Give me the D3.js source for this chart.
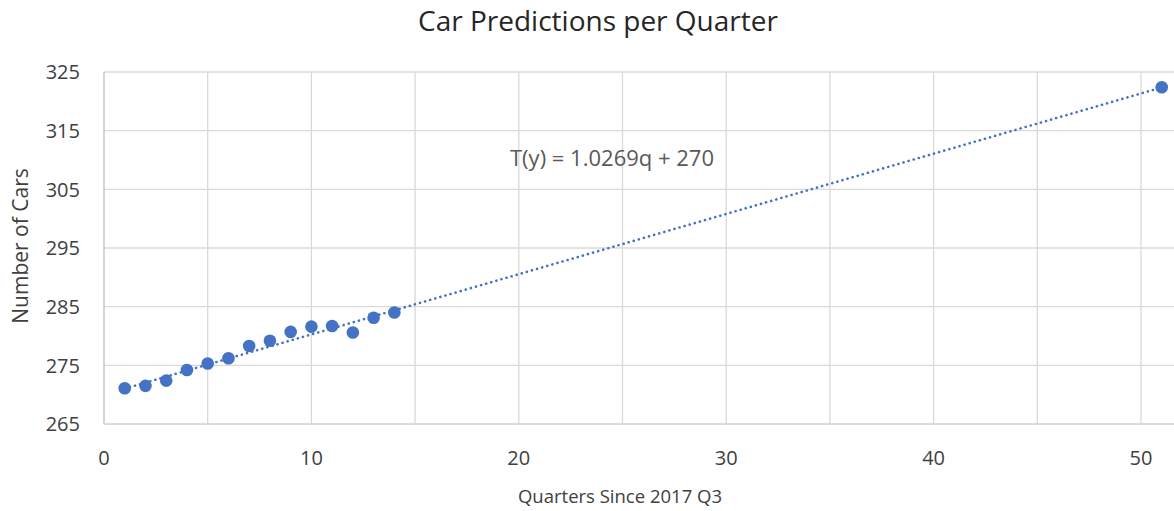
<!DOCTYPE html>
<html><head><meta charset="utf-8">
<script src="https://cdn.jsdelivr.net/npm/d3@7"></script>
<style>
html,body{margin:0;padding:0;background:#fff;}
svg{display:block;}
text{font-family:"Open Sans","Noto Sans",sans-serif;}
</style></head>
<body>
<svg id="chart" width="1174" height="511"></svg>
<script>
const quarters = [1,2,3,4,5,6,7,8,9,10,11,12,13,14,51];
const cars = [271.1,271.5,272.4,274.2,275.3,276.2,278.3,279.2,280.7,281.6,281.7,280.6,283.1,284.0,322.4];
const xTicks = [0,10,20,30,40,50];
const xGrid = [0,5,10,15,20,25,30,35,40,45,50,55];
const yTicks = [265,275,285,295,305,315,325];
const trendSlope = 1.0269, trendIntercept = 270;
const trendRange = [1,51];
const title = "Car Predictions per Quarter";
const xTitle = "Quarters Since 2017 Q3";
const yTitle = "Number of Cars";
const eqText = "T(y) = 1.0269q + 270";

(function(){
const svg = d3.select("#chart");
const padL = 104, padT = 72, padB = 424;
const x = d3.scaleLinear().domain([0,55]).range([padL, padL + 55*20.74]);
const y = d3.scaleLinear().domain([265,325]).range([padB, padT]);
const blue = "#4472C4", grid = "#d9d9d9", txt = "#404040";

// gridlines
svg.append("g").selectAll("line").data(xGrid.filter(d=>d>0)).join("line")
  .attr("x1",d=>x(d)).attr("x2",d=>x(d)).attr("y1",padT).attr("y2",padB)
  .attr("stroke",grid).attr("stroke-width",1.3);
svg.append("g").selectAll("line").data(yTicks.filter(d=>d>265)).join("line")
  .attr("x1",padL).attr("x2",1174).attr("y1",d=>y(d)).attr("y2",d=>y(d))
  .attr("stroke",grid).attr("stroke-width",1.3);
// axis lines
svg.append("line").attr("x1",padL).attr("x2",padL).attr("y1",padT).attr("y2",padB).attr("stroke","#bfbfbf").attr("stroke-width",1.3);
svg.append("line").attr("x1",padL).attr("x2",1174).attr("y1",padB).attr("y2",padB).attr("stroke","#d0d0d0").attr("stroke-width",1.6);

// tick labels
svg.append("g").selectAll("text").data(yTicks).join("text")
  .attr("x",80).attr("y",d=>y(d)).attr("dy","0.36em").attr("text-anchor","end")
  .attr("font-size",20).attr("fill",txt).text(d=>d);
svg.append("g").selectAll("text").data(xTicks).join("text")
  .attr("x",d=>x(d)).attr("y",465).attr("text-anchor","middle")
  .attr("font-size",20).attr("fill",txt).text(d=>d);

// trendline
const line = d3.line().x(d=>x(d)).y(d=>y(trendSlope*d+trendIntercept));
svg.append("path").datum(trendRange).attr("d",line)
  .attr("fill","none").attr("stroke",blue).attr("stroke-width",2.6)
  .attr("stroke-dasharray","0.1,5.2").attr("stroke-linecap","round");

// points
svg.append("g").selectAll("circle").data(quarters.map((q,i)=>[q,cars[i]])).join("circle")
  .attr("cx",d=>x(d[0])).attr("cy",d=>y(d[1])).attr("r",6.3).attr("fill",blue);

// texts
svg.append("text").attr("x",598).attr("y",31).attr("text-anchor","middle")
  .attr("font-size",28).attr("fill","#262626").text(title);
svg.append("text").attr("x",620).attr("y",503).attr("text-anchor","middle")
  .attr("font-size",18.5).attr("fill",txt).text(xTitle);
svg.append("text").attr("transform","translate(28,246) rotate(-90)").attr("text-anchor","middle")
  .attr("font-size",21).attr("fill",txt).text(yTitle);
svg.append("text").attr("x",510).attr("y",166)
  .attr("font-size",22).attr("fill","#595959").text(eqText);
})();
</script>
</body></html>
